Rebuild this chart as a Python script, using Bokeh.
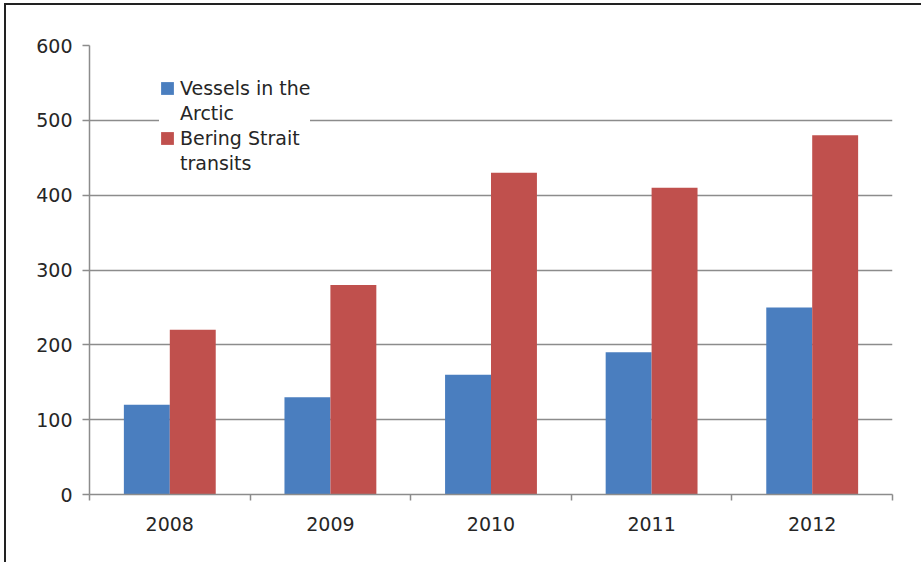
from bokeh.plotting import figure
from bokeh.models import ColumnDataSource, Range1d, FixedTicker, Legend, LegendItem
from bokeh.transform import dodge
from bokeh.embed import file_html
from bokeh.resources import INLINE

years = ["2008", "2009", "2010", "2011", "2012"]
vessels = [120, 130, 160, 190, 250]
bering = [220, 280, 430, 410, 480]
y_ticks = [0, 100, 200, 300, 400, 500, 600]
legend_lines = [("Vessels in the", "Arctic"), ("Bering Strait", "transits")]

pos = [i + 0.5 for i in range(len(years))]
bounds = [float(i) for i in range(len(years) + 1)]
src = ColumnDataSource(dict(x=pos, vessels=vessels, bering=bering))

FONT = "DejaVu Sans"
GRID = "#8c8c8c"
TXT = "#262626"

p = figure(width=917, height=559, output_backend="svg", toolbar_location=None,
           x_range=Range1d(0, len(years)), y_range=Range1d(0, 600),
           min_border_left=83, min_border_right=31, min_border_top=40,
           min_border_bottom=70)
p.margin = (3, 0, 0, 4)
p.styles = {"border-left": "2px solid #222", "border-top": "2px solid #222"}
p.outline_line_color = None
p.background_fill_color = "white"
p.border_fill_color = "white"

bw = 0.286
r1 = p.vbar(x=dodge("x", -bw / 2), top="vessels", width=bw, source=src,
            fill_color="#4A7EBF", line_color=None)
r2 = p.vbar(x=dodge("x", bw / 2), top="bering", width=bw, source=src,
            fill_color="#C0504D", line_color=None)

# x axis
xa = p.xaxis[0]
xa.ticker = FixedTicker(ticks=pos, minor_ticks=bounds)
xa.major_label_overrides = {pp: y for pp, y in zip(pos, years)}
xa.major_tick_out = 0
xa.major_tick_in = 0
xa.minor_tick_out = 6
xa.minor_tick_in = 0
xa.minor_tick_line_color = GRID
xa.minor_tick_line_width = 1.5
xa.axis_line_color = GRID
xa.axis_line_width = 1.5
xa.major_label_standoff = 16
xa.major_label_text_font = FONT
xa.major_label_text_font_size = "19px"
xa.major_label_text_color = TXT

# y axis
ya = p.yaxis[0]
ya.ticker = FixedTicker(ticks=y_ticks)
ya.major_tick_out = 7
ya.major_tick_in = 0
ya.minor_tick_out = 0
ya.minor_tick_in = 0
ya.major_tick_line_color = GRID
ya.major_tick_line_width = 1.5
ya.axis_line_color = GRID
ya.axis_line_width = 1.5
ya.major_label_standoff = 10
ya.major_label_text_font = FONT
ya.major_label_text_font_size = "19px"
ya.major_label_text_color = TXT

p.xgrid.visible = False
p.ygrid.ticker = FixedTicker(ticks=y_ticks)
p.ygrid.grid_line_color = GRID
p.ygrid.grid_line_width = 1.5

items = []
for rend, (l1, l2) in zip([r1, r2], legend_lines):
    items.append(LegendItem(label=l1, renderers=[rend]))
    items.append(LegendItem(label=l2, renderers=[]))

legend = Legend(items=items, location=(70, 320))
legend.padding = 9
legend.spacing = 3
legend.margin = 0
legend.glyph_width = 16
legend.glyph_height = 16
legend.label_standoff = 5
legend.label_text_font = FONT
legend.label_text_font_size = "19px"
legend.label_text_color = TXT
legend.border_line_color = None
legend.background_fill_color = "white"
legend.background_fill_alpha = 1.0
p.add_layout(legend)

open("out.html", "w").write(file_html(p, INLINE))
